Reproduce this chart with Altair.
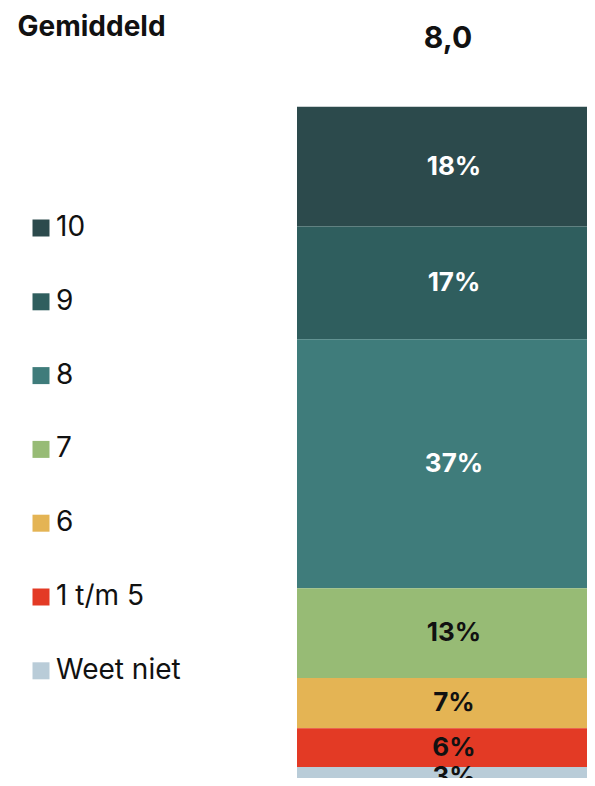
import altair as alt
import pandas as pd

categories = ["10", "9", "8", "7", "6", "1 t/m 5", "Weet niet"]
values = [17.6, 16.6, 36.6, 13.2, 7.4, 5.7, 2.8]
colors = ["#2c4a4c", "#2f5e5e", "#3f7c7b", "#97bb75", "#e4b454", "#e33a25", "#b9ccd8"]
label_colors = ["#ffffff", "#ffffff", "#ffffff", "#111111", "#111111", "#111111", "#111111"]
average_label = "8,0"
group_title = "Gemiddeld"

df = pd.DataFrame({
    "cat": categories,
    "value": values,
    "rank": list(range(len(categories)))[::-1],
    "tcolor": label_colors,
    "avg": [average_label] * len(categories),
})

FONT = "Inter"

x_enc = alt.X(
    "avg:N",
    scale=alt.Scale(paddingInner=0, paddingOuter=0),
    axis=alt.Axis(
        orient="top", title=group_title, domain=False, ticks=False, grid=False,
        labelAngle=0, labelFont=FONT, labelFontSize=30, labelFontWeight="bold",
        labelColor="#111111", labelPadding=59, labelBaseline="alphabetic", labelOffset=6,
        titleFont=FONT, titleFontSize=28, titleFontWeight="bold", titleColor="#111111",
        titleAlign="left", titleBaseline="alphabetic", titleX=-280, titleY=-71,
    ),
)

# the visible window ends a little above the bottom of the bar
y_scale = alt.Scale(domain=[1.2, 100], nice=False, zero=False)

bars = alt.Chart(df).mark_bar(clip=True).encode(
    x=x_enc,
    y=alt.Y("value:Q", stack="zero", scale=y_scale, axis=None),
    color=alt.Color(
        "cat:N",
        scale=alt.Scale(domain=categories, range=colors),
        legend=alt.Legend(
            title=None, orient="none", legendX=-270, legendY=108,
            symbolType="square", symbolSize=289, symbolStrokeWidth=0, symbolOpacity=1,
            labelFont=FONT, labelFontSize=28, labelColor="#111111", labelOffset=1,
            rowPadding=45.8, labelLimit=300,
        ),
    ),
    order=alt.Order("rank:Q", sort="ascending"),
)

text = alt.Chart(df).transform_window(
    cum="sum(value)", sort=[alt.SortField("rank", order="ascending")], frame=[None, 0]
).transform_calculate(
    mid="datum.cum - datum.value / 2",
    label="format(datum.value, '.0f') + '%'",
).mark_text(
    font=FONT, fontSize=26, fontWeight="bold", dx=12, baseline="middle", align="center"
).encode(
    x=alt.X("avg:N"),
    y=alt.Y("mid:Q", scale=y_scale),
    text="label:N",
    color=alt.Color("tcolor:N", scale=None),
)

chart = alt.layer(bars, text).resolve_scale(color="independent").properties(
    width=290,
    height=672,
    autosize=alt.AutoSizeParams(type="none"),
    padding={"left": 289, "top": 98, "right": 0, "bottom": 0},
).configure_view(stroke=None)

chart.save("out.html", embed_options={"renderer": "svg", "actions": False})
